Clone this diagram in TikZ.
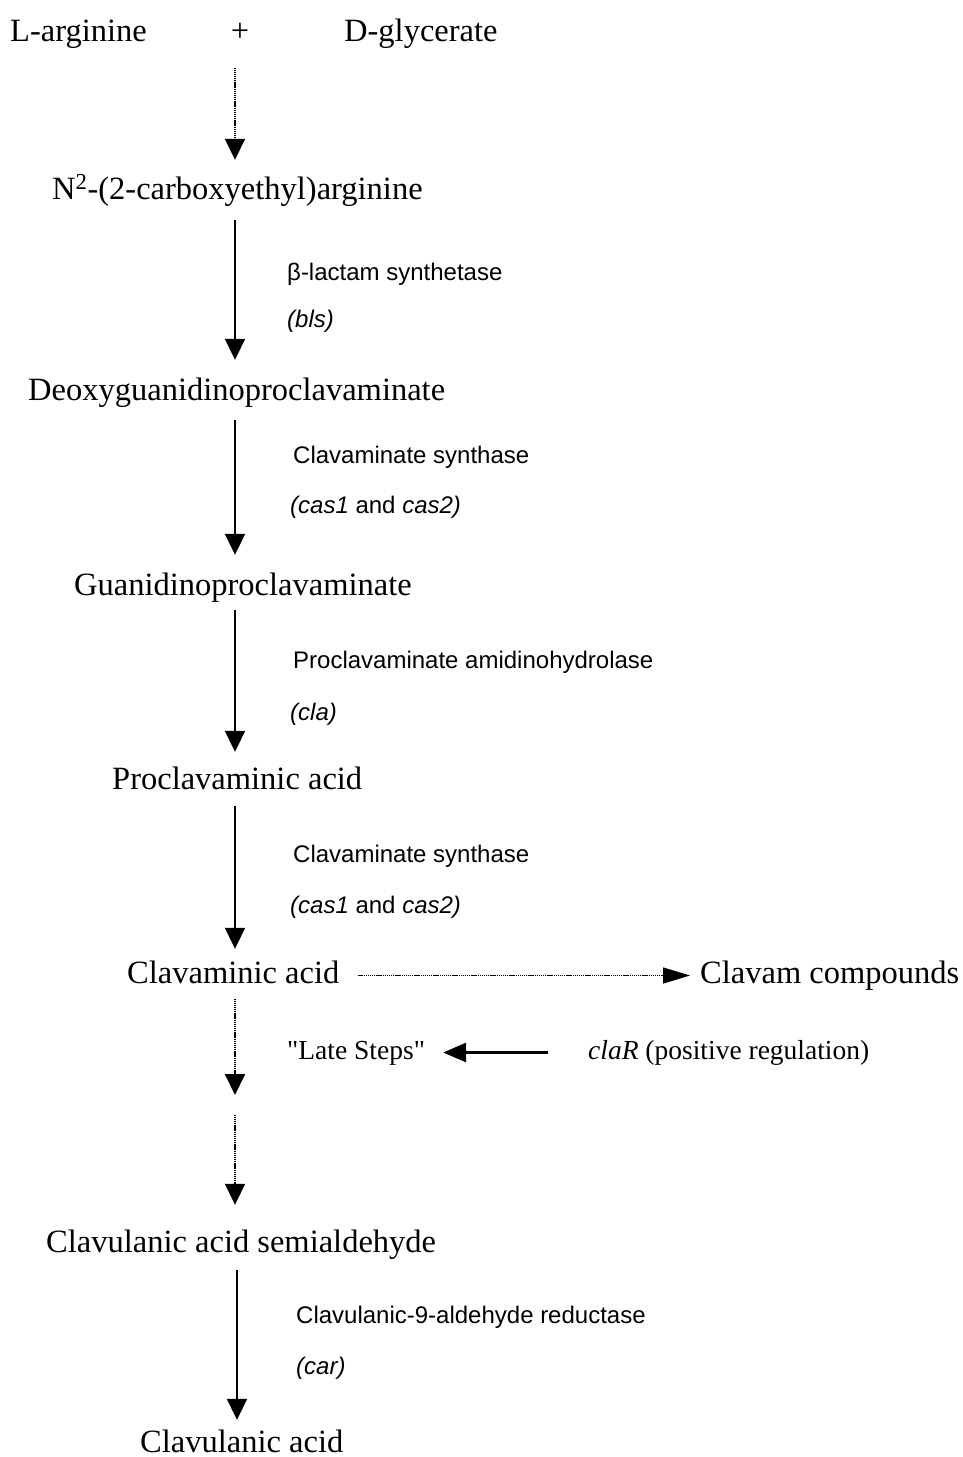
\documentclass[tikz,border=0pt]{standalone}
\usepackage{fontspec}
\setmainfont{Liberation Serif}
\newfontfamily\enzfont{Liberation Sans}
\usetikzlibrary{arrows.meta}

\begin{document}
\begin{tikzpicture}[x=1pt,y=-1pt,
  cmpd/.style={anchor=base west, inner sep=0pt, font=\fontsize{32.5}{36}\selectfont,
    text height=22pt, text depth=7pt},
  enz/.style={anchor=base west, inner sep=0pt, font=\enzfont\fontsize{24}{28}\selectfont},
  note/.style={anchor=base west, inner sep=0pt, font=\fontsize{27.5}{32}\selectfont,
    text height=19pt, text depth=6pt},
  conv/.style={line width=1.9pt, -{Triangle[width=20pt,length=21pt]}},
  dotconv/.style={line width=1.8pt, dash pattern=on 1.2pt off 0.7pt,
    -{Triangle[width=20pt,length=21pt]}},
  sidedot/.style={line width=1.5pt, dash pattern=on 1.2pt off 0.7pt,
    -{Triangle[width=16pt,length=27pt]}},
  regul/.style={line width=2.8pt, -{Triangle[width=19pt,length=23pt]}},
]
\useasboundingbox (0,0) rectangle (963,1457);
\coordinate (spine) at (235,0);

% substrates
\node[cmpd] (arg) at (10,41) {L-arginine};
\node[cmpd, anchor=base] (plus) at (240,41) {+};
\node[cmpd] (gly) at (344,41) {D-glycerate};

% pathway intermediates
\node[cmpd] (n2) at (52,199) {N\textsuperscript{2}-(2-carboxyethyl)arginine};
\node[cmpd] (deoxy) at (28,400) {Deoxyguanidinoproclavaminate};
\node[cmpd] (guan) at (74,595) {Guanidinoproclavaminate};
\node[cmpd] (procl) at (112,789) {Proclavaminic acid};
\node[cmpd] (clavmc) at (127,983) {Clavaminic acid};
\node[cmpd] (clavam) at (700,983) {Clavam compounds};
\node[cmpd] (semi) at (46,1252) {Clavulanic acid semialdehyde};
\node[cmpd] (clavul) at (140,1452) {Clavulanic acid};

% enzymes and genes
\node[enz] (e1) at (287,280) {β-lactam synthetase};
\node[enz] (g1) at (287,327) {\itshape (bls)};
\node[enz] (e2) at (293,463) {Clavaminate synthase};
\node[enz] (g2) at (290,513) {\textit{(cas1} and \textit{cas2)}};
\node[enz] (e3) at (293,668) {Proclavaminate amidinohydrolase};
\node[enz] (g3) at (290,720) {\itshape (cla)};
\node[enz] (e4) at (293,862) {Clavaminate synthase};
\node[enz] (g4) at (290,913) {\textit{(cas1} and \textit{cas2)}};
\node[enz] (e5) at (296,1323) {Clavulanic-9-aldehyde reductase};
\node[enz] (g5) at (296,1374) {\itshape (car)};

% late steps and regulation
\node[note] (late) at (287,1059) {\textquotedbl Late Steps\textquotedbl};
\node[note] (clar) at (588,1059) {\textit{claR} (positive regulation)};
\coordinate (gap) at (235,1105);

% main chain
\draw[dotconv] ([yshift=-20pt]plus.south -| spine) -- ([yshift=17pt]n2.north -| spine);
\draw[conv] ([yshift=-14pt]n2.south -| spine) -- ([yshift=18pt]deoxy.north -| spine);
\draw[conv] ([yshift=-13pt]deoxy.south -| spine) -- ([yshift=18pt]guan.north -| spine);
\draw[conv] ([yshift=-8pt]guan.south -| spine) -- ([yshift=15pt]procl.north -| spine);
\draw[conv] ([yshift=-10pt]procl.south -| spine) -- ([yshift=12pt]clavmc.north -| spine);
\draw[dotconv] ([yshift=-9pt]clavmc.south -| spine) -- ([yshift=10pt]gap);
\draw[dotconv] ([yshift=-10pt]gap) -- ([yshift=25pt]semi.north -| spine);
\draw[conv] ([xshift=2pt,yshift=-11pt]semi.south -| spine) -- ([xshift=2pt,yshift=10pt]clavul.north -| spine);

% branches
\draw[sidedot] ([xshift=19pt]clavmc.east) -- ([xshift=-10pt]clavam.west);
\draw[regul] ([xshift=-40pt]clar.west) -- ([xshift=18pt]late.east);
\end{tikzpicture}
\end{document}
